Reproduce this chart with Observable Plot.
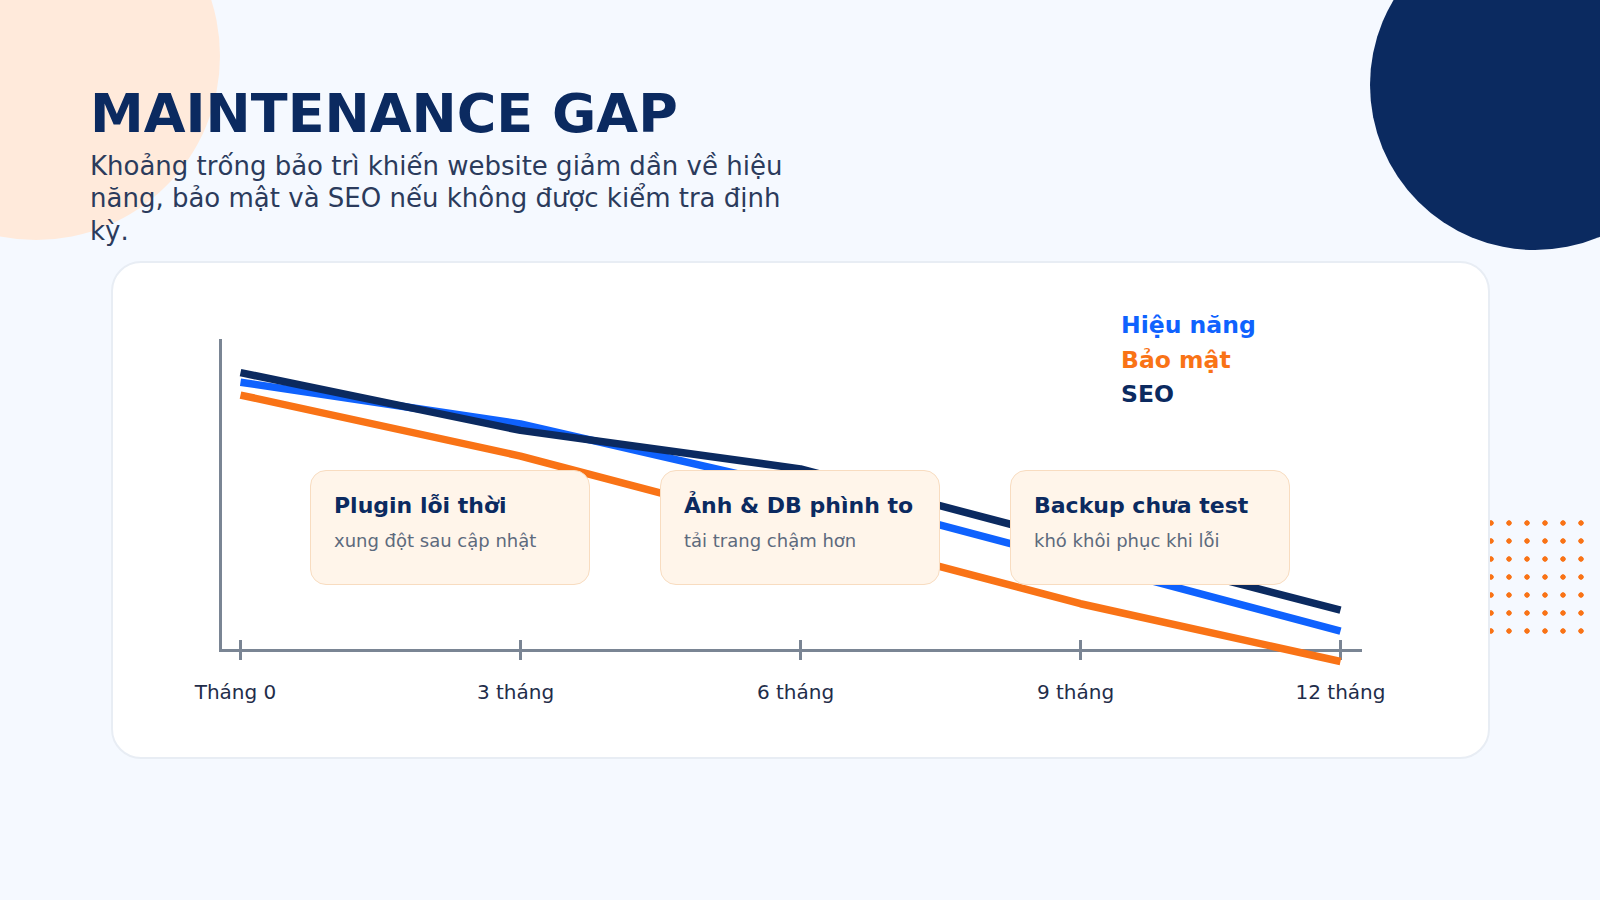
<!DOCTYPE html>
<html>
<head>
<meta charset="utf-8">
<script src="https://cdn.jsdelivr.net/npm/d3@7"></script>
<script src="https://cdn.jsdelivr.net/npm/@observablehq/plot@0.6"></script>
<style>
  html, body { margin: 0; padding: 0; }
  body { width: 1600px; height: 900px; background: #f5f9ff; position: relative; overflow: hidden; font-family: "DejaVu Sans", sans-serif; }
  .peach { position: absolute; left: -148px; top: -128px; width: 368px; height: 368px; border-radius: 50%; background: #ffeadb; }
  .navy { position: absolute; left: 1370px; top: -80px; width: 330px; height: 330px; border-radius: 50%; background: #0b2a60; }
  .dots { position: absolute; left: 1410px; top: 514px; width: 180px; height: 126px;
          background-image: radial-gradient(circle, #f97316 2.4px, rgba(249,115,22,0) 3px);
          background-size: 18px 18px; }
  .title { position: absolute; left: 90px; top: 87px; margin: 0; font-size: 54px; line-height: 54px; font-weight: bold; color: #0b2a60; white-space: nowrap; }
  .subtitle { position: absolute; left: 90px; top: 150px; width: 715px; margin: 0; font-size: 26px; line-height: 32.3px; color: #2b3b5c; }
  .card { position: absolute; left: 111px; top: 261px; width: 1379px; height: 498px; box-sizing: border-box; background: #ffffff; border: 2px solid #e8edf4; border-radius: 30px; }
  #chart { position: absolute; left: 111px; top: 261px; width: 1379px; height: 498px; }
  .legend { position: absolute; left: 1121px; top: 308px; font-size: 23.5px; line-height: 34.5px; font-weight: bold; }
  .notes { position: absolute; left: 310px; top: 470px; display: flex; gap: 70px; }
  .note { box-sizing: border-box; width: 280px; height: 115px; padding: 21px 24px 0 23px; background: #fff5ea; border: 1px solid #f8dcc0; border-radius: 16px; }
  .note .h { font-size: 22px; line-height: 28px; font-weight: bold; color: #0b2a60; white-space: nowrap; }
  .note .s { margin-top: 9px; font-size: 18px; line-height: 24px; color: #5d6a7d; white-space: nowrap; }
</style>
</head>
<body>
<div class="peach"></div>
<div class="navy"></div>
<div class="dots"></div>
<h1 class="title">MAINTENANCE GAP</h1>
<p class="subtitle">Khoảng trống bảo trì khiến website giảm dần về hiệu năng, bảo mật và SEO nếu không được kiểm tra định kỳ.</p>
<div class="card"></div>
<div id="chart"></div>
<div class="legend" id="legend"></div>
<div class="notes" id="notes"></div>
<script>
// ---- data ----
const months = [0, 3, 6, 9, 12];
const tickLabels = ["Tháng 0", "3 tháng", "6 tháng", "9 tháng", "12 tháng"];
const seriesNames = ["Hiệu năng", "Bảo mật", "SEO"];
const perfValues = [87, 74, 54, 31, 9.5];
const securityValues = [83, 64, 41, 18, 0];
const seoValues = [90, 72, 60, 37, 16];
const noteTitles = ["Plugin lỗi thời", "Ảnh & DB phình to", "Backup chưa test"];
const noteTexts = ["xung đột sau cập nhật", "tải trang chậm hơn", "khó khôi phục khi lỗi"];

// ---- styles ----
const seriesColors = ["#0f62fe", "#f97316", "#0b2a60"];
const axisColor = "#7a8594";
const labelColor = "#1f2d4a";

const seriesValues = [perfValues, securityValues, seoValues];
const rows = seriesNames.flatMap((name, s) =>
  months.map((m, i) => ({series: name, month: m, value: seriesValues[s][i]})));

const W = 1379, H = 498;
const mL = 109, mR = 130, mT = 79, mB = 109;
const step = 280, inset = 20;
const lastIndex = months.length - 1;
const xRange = months.map((m, i) => i === lastIndex ? W - mR - inset : mL + inset + i * step);

const chart = Plot.plot({
  width: W,
  height: H,
  marginLeft: mL, marginRight: mR, marginTop: mT, marginBottom: mB,
  style: {fontFamily: "DejaVu Sans", background: "transparent", overflow: "visible"},
  x: {type: "linear", domain: months, range: xRange, axis: null},
  y: {domain: [0, 100], range: [H - mB + 11, mT], axis: null},
  color: {domain: seriesNames, range: seriesColors},
  marks: [
    Plot.frame({anchor: "left", stroke: axisColor, strokeWidth: 3}),
    Plot.frame({anchor: "bottom", stroke: axisColor, strokeWidth: 3}),
    Plot.axisX(months, {tickSize: 20, dy: -10, fill: "none", stroke: axisColor, strokeWidth: 3, label: null}),
    Plot.text(months, {x: d => d, text: (d, i) => tickLabels[i], frameAnchor: "bottom", lineAnchor: "bottom", dy: 48, dx: -5, fontSize: 20, fill: labelColor, filter: (d, i) => i !== lastIndex}),
    Plot.text(months, {x: d => d, text: (d, i) => tickLabels[i], frameAnchor: "bottom", lineAnchor: "bottom", dy: 48, fontSize: 20, fill: labelColor, filter: (d, i) => i === lastIndex}),
    Plot.line(rows, {x: "month", y: "value", z: "series", stroke: "series", strokeWidth: 7.5, strokeLinecap: "butt", strokeLinejoin: "round"})
  ]
});
document.getElementById("chart").appendChild(chart);

const legend = document.getElementById("legend");
seriesNames.forEach((name, i) => {
  const d = document.createElement("div");
  d.textContent = name;
  d.style.color = seriesColors[i];
  legend.appendChild(d);
});

const notes = document.getElementById("notes");
noteTitles.forEach((t, i) => {
  const box = document.createElement("div");
  box.className = "note";
  const h = document.createElement("div"); h.className = "h"; h.textContent = t;
  const s = document.createElement("div"); s.className = "s"; s.textContent = noteTexts[i];
  box.appendChild(h); box.appendChild(s);
  notes.appendChild(box);
});
</script>
</body>
</html>
